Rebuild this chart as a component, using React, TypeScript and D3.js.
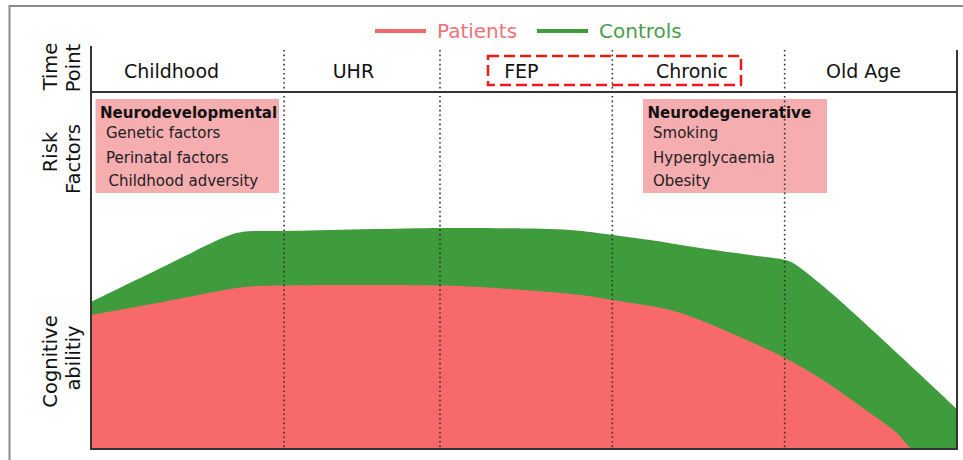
import React, { useEffect, useRef } from 'react';
import * as d3 from 'd3';

// time axis (arbitrary units 0..100 across the plot)
const stages = ['Childhood', 'UHR', 'FEP', 'Chronic', 'Old Age'];
const stageCenters = [9.3, 30.3, 49.7, 69.4, 89.2];
const dividers = [22.3, 40.3, 60.2, 80.1];

// cognitive ability curves
const controlsX = [0, 8.55, 15.47, 17.44, 22.4, 40.3, 44.92, 55.31, 60.28, 64.55, 70.32, 76.1, 80.14, 81.06, 85.33, 100];
const controlsY = [61.25, 76.25, 88.33, 90.42, 90.83, 92.08, 92.08, 91.25, 89.17, 87.08, 83.75, 80.83, 78.75, 77.5, 65.42, 16.67];
const patientsX = [0, 8.55, 17.78, 22.4, 40.3, 44.92, 56.47, 60.28, 66.86, 70.32, 74.94, 80.14, 84.53, 89.15, 93.07, 94.92, 100];
const patientsY = [55.83, 61.46, 67.5, 68.13, 68.13, 67.5, 64.17, 62.08, 57.92, 53.75, 46.67, 37.92, 28.75, 17.08, 6.67, 0, 0];

const devFactors = ['Genetic factors', 'Perinatal factors', 'Childhood adversity'];
const degFactors = ['Smoking', 'Hyperglycaemia', 'Obesity'];

const App = () => {
    const ref = useRef<SVGSVGElement | null>(null);

    useEffect(() => {
        const svg = d3.select(ref.current);
        svg.selectAll('*').remove();

        const font = "'DejaVu Sans', Verdana, sans-serif";
        var left = 91, right = 957, top = 50, bottom = 449;

        var x = d3.scaleLinear().domain([0, 100]).range([left, right]);
        var y = d3.scaleLinear().domain([0, 100]).range([bottom, 209]);

        // outer frame
        svg.append('path')
            .attr('d', 'M9.5,470 L9.5,6 L975,6')
            .attr('fill', 'none')
            .attr('stroke', '#8a8a8a')
            .attr('stroke-width', 2);

        // keep curves inside the plot
        svg.append('defs').append('clipPath').attr('id', 'plot-clip')
            .append('rect')
            .attr('x', left).attr('y', top)
            .attr('width', right - left).attr('height', bottom - top);

        // areas
        var area = d3.area<[number, number]>()
            .x(d => x(d[0]))
            .y0(y(0))
            .y1(d => y(d[1]))
            .curve(d3.curveCatmullRom.alpha(0.5));

        var plot = svg.append('g').attr('clip-path', 'url(#plot-clip)');

        plot.append('path')
            .datum(controlsX.map((v, i) => [v, controlsY[i]] as [number, number]))
            .attr('fill', '#3f9c3c')
            .attr('d', area);

        plot.append('path')
            .datum(patientsX.map((v, i) => [v, patientsY[i]] as [number, number]))
            .attr('fill', '#f86a6a')
            .attr('d', area);

        // risk factor boxes
        const boxes = [
            { x0: 95.5, x1: 279, title: 'Neurodevelopmental', items: devFactors, indent: [6, 6, 8.5] },
            { x0: 643, x1: 827, title: 'Neurodegenerative', items: degFactors, indent: [5.5, 5.5, 5.5] },
        ];
        boxes.forEach(b => {
            svg.append('rect')
                .attr('x', b.x0).attr('y', 99)
                .attr('width', b.x1 - b.x0).attr('height', 94)
                .attr('fill', '#f5adb0');
            svg.append('text')
                .attr('x', b.x0 + 4.5).attr('y', 118)
                .attr('font-family', font).attr('font-weight', 'bold')
                .attr('font-size', 15).attr('fill', '#111')
                .text(b.title);
            b.items.forEach((t, i) => {
                svg.append('text')
                    .attr('x', b.x0 + 4.5 + b.indent[i]).attr('y', [138, 163, 186][i])
                    .attr('font-family', font).attr('font-size', 15).attr('fill', '#222')
                    .text(t);
            });
        });

        // dotted stage dividers
        dividers.forEach(d => {
            svg.append('line')
                .attr('x1', x(d)).attr('x2', x(d))
                .attr('y1', top).attr('y2', bottom)
                .attr('stroke', '#333').attr('stroke-width', 1.6)
                .attr('stroke-dasharray', '1.6,3');
        });

        // axes
        svg.append('line').attr('x1', left).attr('x2', left).attr('y1', 46).attr('y2', bottom + 1)
            .attr('stroke', '#333').attr('stroke-width', 2);
        svg.append('line').attr('x1', right).attr('x2', right).attr('y1', top).attr('y2', bottom + 1)
            .attr('stroke', '#333').attr('stroke-width', 2);
        svg.append('line').attr('x1', left).attr('x2', right).attr('y1', bottom).attr('y2', bottom)
            .attr('stroke', '#333').attr('stroke-width', 2);
        svg.append('line').attr('x1', left).attr('x2', right).attr('y1', 92).attr('y2', 92)
            .attr('stroke', '#333').attr('stroke-width', 2);

        // stage labels
        stages.forEach((s, i) => {
            svg.append('text')
                .attr('x', x(stageCenters[i])).attr('y', 78)
                .attr('text-anchor', 'middle')
                .attr('font-family', font).attr('font-size', 19).attr('fill', '#111')
                .text(s);
        });

        // highlighted FEP / Chronic
        svg.append('rect')
            .attr('x', 488).attr('y', 56)
            .attr('width', 253).attr('height', 29)
            .attr('fill', 'none')
            .attr('stroke', '#f01818').attr('stroke-width', 2.5)
            .attr('stroke-dasharray', '11,5');

        // row labels (rotated)
        const rowLabels = [
            { lines: ['Time', 'Point'], cy: [66.5, 68] },
            { lines: ['Risk', 'Factors'], cy: [152, 159] },
            { lines: ['Cognitive', 'abilitiy'], cy: [361.5, 358] },
        ];
        rowLabels.forEach(r => {
            r.lines.forEach((t, i) => {
                svg.append('text')
                    .attr('transform', `translate(${57 + i * 23},${r.cy[i]}) rotate(-90)`)
                    .attr('text-anchor', 'middle')
                    .attr('font-family', font).attr('font-size', 19.5).attr('fill', '#111')
                    .text(t);
            });
        });

        // legend
        const legend = [
            { label: 'Patients', line: '#f0686c', text: '#ec7278', x0: 375 },
            { label: 'Controls', line: '#3f9c3c', text: '#4a9e4a', x0: 537 },
        ];
        legend.forEach(l => {
            svg.append('line')
                .attr('x1', l.x0).attr('x2', l.x0 + 51)
                .attr('y1', 31).attr('y2', 31)
                .attr('stroke', l.line).attr('stroke-width', 4);
            svg.append('text')
                .attr('x', l.x0 + 62).attr('y', 37.5)
                .attr('font-family', font).attr('font-size', 20).attr('fill', l.text)
                .text(l.label);
        });
    }, []);

    return (
        <div style={{ position: 'absolute', left: 0, top: 0 }}>
            <svg ref={ref} width={963} height={460} style={{ display: 'block', background: '#fff' }} />
        </div>
    );
};

export default App;
